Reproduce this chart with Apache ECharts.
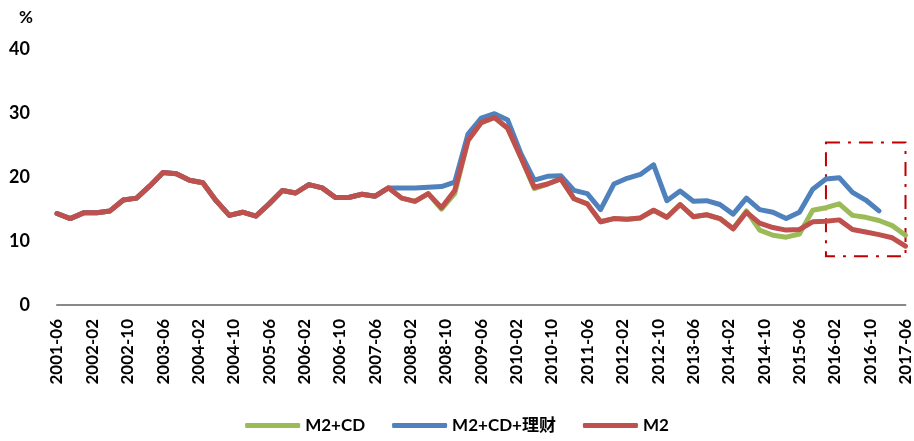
<!DOCTYPE html>
<html>
<head>
<meta charset="utf-8">
<script src="https://cdn.jsdelivr.net/npm/echarts@6/dist/echarts.min.js"></script>
<style>
  html, body { margin: 0; padding: 0; background: #fff; }
  #chart { width: 914px; height: 441px; }
</style>
</head>
<body>
<div id="chart"></div>
<script>
// 季度数据, 2001-06 至 2017-06
var quarters = [];
for (var y = 2001, m = 6; y < 2017 || (y === 2017 && m <= 6); ) {
  quarters.push(y + '-' + (m < 10 ? '0' + m : m));
  m += 3; if (m > 12) { m -= 12; y++; }
}
// 横轴按月
var months = [];
for (var y2 = 2001, m2 = 6; y2 < 2017 || (y2 === 2017 && m2 <= 6); ) {
  months.push(y2 + '-' + (m2 < 10 ? '0' + m2 : m2));
  m2++; if (m2 > 12) { m2 = 1; y2++; }
}

var m2 = [14.3, 13.5, 14.4, 14.4, 14.7, 16.4, 16.7, 18.6, 20.7, 20.5, 19.5, 19.1,
  16.3, 14.0, 14.5, 13.9, 15.8, 17.9, 17.5, 18.8, 18.3, 16.8, 16.8, 17.3, 17.0,
  18.3, 16.7, 16.2, 17.4, 15.2, 17.9, 25.7, 28.5, 29.3, 27.6, 23.0, 18.4, 18.9,
  19.7, 16.6, 15.8, 13.0, 13.5, 13.4, 13.6, 14.8, 13.7, 15.7, 13.8, 14.1, 13.5,
  11.9, 14.5, 12.8, 12.1, 11.7, 11.8, 13.0, 13.1, 13.3, 11.8, 11.4, 11.0, 10.5, 9.2];

var m2cd = [14.3, 13.5, 14.4, 14.4, 14.7, 16.4, 16.7, 18.6, 20.7, 20.5, 19.5, 19.1,
  16.3, 14.0, 14.5, 13.9, 15.8, 17.9, 17.5, 18.8, 18.3, 16.8, 16.8, 17.3, 17.0,
  18.3, 16.7, 16.2, 17.4, 15.0, 17.4, 25.7, 28.5, 29.3, 27.6, 23.0, 18.2, 18.9,
  19.7, 16.6, 15.8, 13.0, 13.5, 13.4, 13.6, 14.8, 13.7, 15.7, 13.8, 14.1, 13.5,
  11.9, 14.7, 11.7, 10.9, 10.6, 11.1, 14.8, 15.2, 15.8, 14.0, 13.7, 13.2, 12.4, 10.9];

var m2cdWm = [14.3, 13.5, 14.4, 14.4, 14.7, 16.4, 16.7, 18.6, 20.7, 20.5, 19.5, 19.1,
  16.3, 14.0, 14.5, 13.9, 15.8, 17.9, 17.5, 18.8, 18.3, 16.8, 16.8, 17.3, 17.0,
  18.3, 18.3, 18.3, 18.4, 18.5, 19.2, 26.7, 29.2, 29.9, 28.9, 23.6, 19.5, 20.1,
  20.2, 17.9, 17.4, 14.9, 18.9, 19.8, 20.4, 21.9, 16.3, 17.8, 16.2, 16.3, 15.7,
  14.2, 16.7, 14.9, 14.5, 13.5, 14.5, 18.1, 19.7, 19.9, 17.6, 16.4, 14.7];

var yTicks = [0, 10, 20, 30, 40];

function pairs(arr) {
  return arr.map(function (v, i) { return [quarters[i], v]; });
}

var font = 'Lato, "Noto Sans CJK SC", sans-serif';

var option = {
  animation: false,
  title: {
    text: '%', left: 14, top: 4,
    textStyle: { fontFamily: font, fontWeight: 'bold', fontSize: 17, color: '#000' }
  },
  grid: { left: 57, right: 7, top: 49, bottom: 136 },
  legend: {
    bottom: 2, left: 'center',
    icon: 'roundRect', itemWidth: 55, itemHeight: 5, itemGap: 27,
    textStyle: { fontFamily: font, fontWeight: 'bold', fontSize: 17, color: '#000' },
    data: ['M2+CD', 'M2+CD+理财', 'M2']
  },
  xAxis: {
    type: 'category',
    data: months,
    boundaryGap: false,
    axisLine: { lineStyle: { color: '#898989', width: 2 } },
    axisTick: { show: false },
    axisLabel: {
      interval: 7, rotate: 90, margin: 14,
      fontFamily: font, fontWeight: 'bold', fontSize: 17, color: '#000'
    }
  },
  yAxis: {
    type: 'value', min: yTicks[0], max: yTicks[yTicks.length - 1], interval: 10,
    splitLine: { show: false },
    axisLine: { show: false },
    axisTick: { show: false },
    axisLabel: { margin: 27, fontFamily: font, fontWeight: 'bold', fontSize: 18, color: '#000' }
  },
  series: [
    {
      name: 'M2+CD', type: 'line', data: pairs(m2cd), showSymbol: false,
      color: '#9BBB59', lineStyle: { width: 5, join: 'round', cap: 'round' }
    },
    {
      name: 'M2+CD+理财', type: 'line', data: pairs(m2cdWm), showSymbol: false,
      color: '#4F81BD', lineStyle: { width: 5, join: 'round', cap: 'round' }
    },
    {
      name: 'M2', type: 'line', data: pairs(m2), showSymbol: false,
      color: '#C0504D', lineStyle: { width: 5, join: 'round', cap: 'round' },
      markArea: {
        silent: true,
        itemStyle: {
          color: 'rgba(0,0,0,0)', borderColor: '#C00000', borderWidth: 2,
          borderType: [14, 8, 3, 8]
        },
        data: [[{ xAxis: '2015-12', yAxis: 25.4 }, { xAxis: '2017-06', yAxis: 7.6 }]]
      }
    }
  ]
};

var chart = echarts.init(document.getElementById('chart'));
chart.setOption(option);
</script>
</body>
</html>
